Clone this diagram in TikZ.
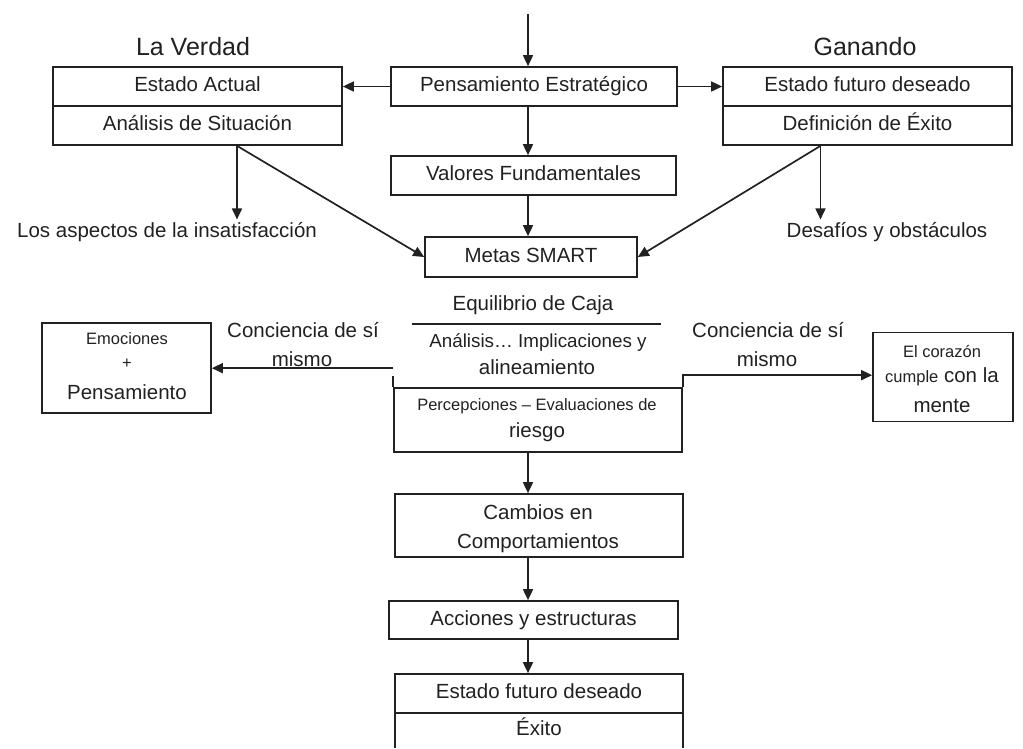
\documentclass[tikz,border=0pt]{standalone}
\usepackage{fontspec}
\setmainfont{Liberation Sans}
\usetikzlibrary{arrows.meta,calc}
\definecolor{ink}{rgb}{0.13,0.13,0.13}
\newcommand\myMain{\fontsize{20.5pt}{24pt}\selectfont}
\newcommand\mySmall{\fontsize{16.5pt}{19pt}\selectfont}
\newcommand\myMid{\fontsize{18.8pt}{22pt}\selectfont}
\newcommand\myTitle{\fontsize{25pt}{29pt}\selectfont}
\begin{document}
\begin{tikzpicture}[x=1pt,y=-1pt,
  every node/.style={text=ink,text height=14.8pt,text depth=4.3pt},
  small/.style={font=\mySmall,text height=11.9pt,text depth=3.5pt},
  mid/.style={font=\myMid,text height=13.5pt,text depth=4pt},
  title/.style={font=\myTitle,text height=18pt,text depth=5.2pt},
  box/.style={draw=ink,line width=1.7pt,inner sep=0pt,font=\myMain},
  lbl/.style={inner sep=0pt,outer sep=3pt,font=\myMain},
  ln/.style={draw=ink,line width=1.7pt},
  arr/.style={ln,-{Triangle[length=11pt,width=10pt]}}]
\useasboundingbox (0,0) rectangle (1023,748);
% top row
\coordinate (top) at (528,14);
\node[box,minimum width=286pt,minimum height=39pt] (ps) at (534,86.5) {Pensamiento Estratégico};
\node[box,minimum width=289pt,minimum height=39pt] (ea) at (197.5,86.5) {Estado Actual};
\node[box,minimum width=289pt,minimum height=39pt] (as) at (197.5,125.5) {Análisis de Situación};
\node[box,minimum width=289pt,minimum height=39pt] (ef) at (867.5,86.5) {Estado futuro deseado};
\node[box,minimum width=289pt,minimum height=39pt] (de) at (867.5,125.5) {Definición de Éxito};
\node[lbl,title] (lv) at (193,49) {La Verdad};
\node[lbl,title] (gn) at (865,49) {Ganando};
\node[box,minimum width=285pt,minimum height=39pt] (vf) at (533.5,175.5) {Valores Fundamentales};
\node[box,minimum width=212pt,minimum height=40pt] (ms) at (531,257) {Metas SMART};
\node[lbl] (la) at (167,232) {Los aspectos de la insatisfacción};
\node[lbl] (da) at (887,232) {Desafíos y obstáculos};
\coordinate (asd) at ([xshift=39.5pt]as.south);
\coordinate (ded) at ([xshift=-47pt]de.south);
\draw[arr] (top) -- (top |- ps.north);
\draw[arr] (ps.west) -- (ea.east);
\draw[arr] (ps.east) -- (ef.west);
\draw[arr] (top |- ps.south) -- (top |- vf.north);
\draw[arr] (top |- vf.south) -- (top |- ms.north);
\draw[arr] (asd) -- (asd |- la.north);
\draw[arr] (asd) -- (ms.west);
\draw[arr] (ded) -- (ded |- da.north);
\draw[arr] (ded) -- (ms.east);
% middle
\node[lbl] (eq) at (533,305) {Equilibrio de Caja};
\coordinate (eqa) at (412,324);
\coordinate (eqb) at (661,324);
\draw[ln] (eqa) -- (eqb);
\node[lbl,mid] (an) at (538,343) {Análisis… Implicaciones y};
\node[lbl] (al) at (537,369) {alineamiento};
\node[box,minimum width=288pt,minimum height=64pt] (pe) at (538,420) {};
\node[lbl,small] (pc) at (537,406) {Percepciones – Evaluaciones de};
\node[lbl] (ri) at (537,432) {riesgo};
\draw[ln] (pe.north west) -- ([yshift=11pt]pe.north west);
\node[box,minimum width=169pt,minimum height=90pt] (em) at (126.5,368) {};
\node[lbl,small] (em1) at (127,340) {Emociones};
\node[lbl,small] (em2) at (127,364) {+};
\node[lbl] (em3) at (127,394) {Pensamiento};
\node[box,minimum width=140pt,minimum height=89pt] (ca) at (943,377) {};
\node[lbl,small] (ca1) at (942,353) {El corazón};
\node[lbl] (ca2) at (942,377) {{\mySmall cumple} con la};
\node[lbl] (ca3) at (942,407) {mente};
\node[lbl] (cl1) at (303,332) {Conciencia de sí};
\node[lbl] (cl2) at (302,361) {mismo};
\node[lbl] (cr1) at (768,332) {Conciencia de sí};
\node[lbl] (cr2) at (767,361) {mismo};
\coordinate (pl) at ([yshift=19pt]pe.north west);
\coordinate (pr) at ([yshift=12pt]pe.north east);
\draw[arr] (pl) -- (pl -| em.east);
\draw[arr] (pe.north east) -- (pr) -- (pr -| ca.west);
% bottom
\node[box,minimum width=288pt,minimum height=63pt] (cb) at (539,525.5) {};
\node[lbl] (cb1) at (538,514) {Cambios en};
\node[lbl] (cb2) at (538,543) {Comportamientos};
\node[box,minimum width=289pt,minimum height=38pt] (ac) at (533.5,620) {Acciones y estructuras};
\node[box,minimum width=288pt,minimum height=39pt] (fd) at (539,693.5) {Estado futuro deseado};
\node[inner sep=0pt,minimum width=288pt,minimum height=35pt,font=\myMain] (ex) at (539,730.5) {Éxito};
\draw[ln] (ex.north west) -- (ex.south west);
\draw[ln] (ex.north east) -- (ex.south east);
\draw[arr] (top |- pe.south) -- (top |- cb.north);
\draw[arr] (top |- cb.south) -- (top |- ac.north);
\draw[arr] (top |- ac.south) -- (top |- fd.north);
\end{tikzpicture}
\end{document}
